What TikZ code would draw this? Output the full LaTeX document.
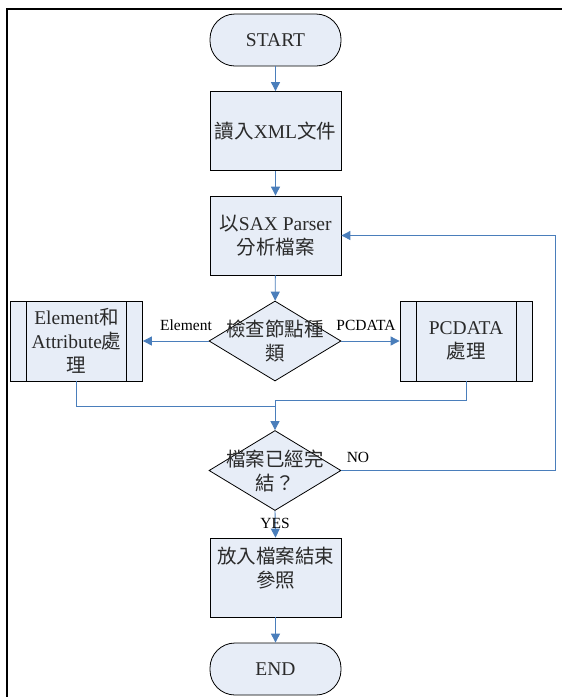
\documentclass[tikz,border=0pt]{standalone}
\usepackage{fontspec}
\setmainfont{Liberation Serif}
\newfontfamily\cjk{Noto Sans CJK TC}
\newcommand\zh[1]{{\cjk #1}}
\usetikzlibrary{arrows.meta,shapes.geometric}
\definecolor{boxfill}{HTML}{E7EDF7}
\definecolor{conncol}{HTML}{4A7EBB}
\definecolor{txtcol}{HTML}{2A2A2A}
\tikzset{
  base/.style={draw=black, line width=0.8pt, fill=boxfill, text=txtcol, inner sep=0pt,
    font=\fontsize{19.5}{24}\selectfont, align=center},
  procbox/.style={base, rectangle, minimum width=131pt, minimum height=79pt},
  termbox/.style={base, rectangle, rounded corners=25pt, minimum width=131pt, minimum height=52pt},
  decbox/.style={base, diamond, minimum width=132pt, minimum height=80pt},
  subbox/.style={base, rectangle, minimum width=132pt, minimum height=80pt,
    path picture={
      \draw[black, line width=0.8pt] ([xshift=16pt]path picture bounding box.north west) -- ([xshift=16pt]path picture bounding box.south west);
      \draw[black, line width=0.8pt] ([xshift=-16pt]path picture bounding box.north east) -- ([xshift=-16pt]path picture bounding box.south east);
    }},
  conn/.style={draw=conncol, line width=0.9pt},
  arr/.style={conn, -{Triangle[length=9pt,width=9pt]}, color=conncol},
  lbl/.style={font=\fontsize{15.5}{17}\selectfont, text=black, inner sep=0pt},
  inlbl/.style={font=\fontsize{19.5}{24}\selectfont, text=txtcol, align=center, inner sep=0pt}
}
\begin{document}
\begin{tikzpicture}[x=1pt,y=-1pt]
\useasboundingbox (0,0) rectangle (562,697);
\fill[white] (0,0) rectangle (562,697);
\draw[line width=2pt, line cap=rect] (562,9) -- (7,9) -- (7,697);

\node[termbox] (start) at (275.5,40) {START};
\node[procbox] (b1) at (275.5,131) {\zh{讀入}XML\zh{文件}};
\node[procbox] (b2) at (275.5,235.5) {\zh{以}SAX Parser\\\zh{分析檔案}};
\node[decbox, label={[inlbl]center:\zh{檢查節點種}\\\zh{類}}] (d1) at (275,341) {};
\node[subbox] (lbox) at (76.5,341) {Element\zh{和}\\Attribute\zh{處}\\\zh{理}};
\node[subbox] (rbox) at (466,341) {PCDATA\\\zh{處理}};
\node[decbox, label={[inlbl]center:\zh{檔案已經完}\\\zh{結？}}] (d2) at (275,470.5) {};
\node[procbox, label={[inlbl, anchor=north, yshift=-9pt]north:\zh{放入檔案結束}\\\zh{參照}}] (b3) at (275.5,577.5) {};
\node[termbox] (end) at (275.5,669) {END};

\coordinate (jl) at (275,406);
\coordinate (jr) at (275,400);
\coordinate (back) at (555,470.5);

\draw[arr] (start) -- (b1);
\draw[arr] (b1) -- (b2);
\draw[arr] (b2) -- (d1);
\draw[arr] (d1.west) -- (lbox.east);
\draw[arr] (d1.east) -- (rbox.west);
\draw[conn] (lbox.south) |- (jl);
\draw[conn] (rbox.south) |- (jr);
\draw[arr] (jr) -- (d2.north);
\draw[arr] (d2.east) -- (back) |- (b2.east);
\draw[arr] (d2.south) -- (b3.north);
\draw[arr] (b3) -- (end);

\node[lbl] (lel) at (186,325) {Element};
\node[lbl] (lpc) at (366,325) {PCDATA};
\node[lbl] (lno) at (358,457) {NO};
\node[lbl] (lyes) at (275,523) {YES};
\end{tikzpicture}
\end{document}
